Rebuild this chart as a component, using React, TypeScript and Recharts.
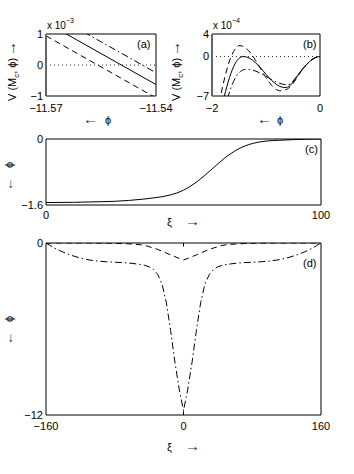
import { LineChart, Line, XAxis, YAxis, ReferenceLine, ReferenceArea } from 'recharts';

// panel (a): three parallel straight lines
const aPhi = [-11.57, -11.54];
const aSolid = [1.37, -0.63];
const aDashed = [0.94, -1.06];
const aDashDot = [1.75, -0.25];
const aXTicks = [-11.57, -11.54];
const aYTicks = [-1, 0, 1];

// panel (b): potential near the maximum
const bPhi = [-2.0, -1.95, -1.9, -1.85, -1.8, -1.75, -1.7, -1.65, -1.6, -1.55, -1.5, -1.45, -1.4, -1.35, -1.3, -1.25, -1.2, -1.15, -1.1, -1.05, -1.0, -0.95, -0.9, -0.85, -0.8, -0.75, -0.7, -0.65, -0.6, -0.55, -0.5, -0.45, -0.4, -0.35, -0.3, -0.25, -0.2, -0.15, -0.1, -0.05, 0];
const bSolid = [-18, -15, -12.5, -10.2, -8.1, -6.2, -4.5, -3.0, -1.8, -0.9, -0.33, -0.04, -0.01, -0.11, -0.32, -0.64, -1.04, -1.51, -2.03, -2.58, -3.14, -3.69, -4.19, -4.63, -5.0, -5.27, -5.44, -5.5, -5.42, -5.1, -4.55, -3.9, -3.2, -2.55, -1.95, -1.42, -0.95, -0.55, -0.25, -0.06, 0];
const bDashed = [-17, -14, -11, -7.6, -5.2, -3.2, -1.5, -0.1, 0.9, 1.55, 1.94, 1.9, 1.68, 1.31, 0.8, 0.17, -0.55, -1.34, -2.16, -2.97, -3.74, -4.45, -5.06, -5.54, -5.89, -6.07, -6.08, -5.95, -5.72, -5.35, -4.8, -4.1, -3.35, -2.62, -1.98, -1.42, -0.95, -0.55, -0.25, -0.06, 0];
const bDashDot = [-20, -17, -14.5, -12, -10, -8.4, -7.0, -5.6, -4.4, -3.5, -2.9, -2.5, -2.3, -2.27, -2.31, -2.41, -2.56, -2.75, -2.99, -3.24, -3.52, -3.8, -4.08, -4.33, -4.56, -4.75, -4.88, -4.97, -5.0, -4.85, -4.35, -3.75, -3.15, -2.52, -1.95, -1.42, -0.95, -0.55, -0.25, -0.06, 0];
const bXTicks = [-2, 0];
const bYTicks = [-7, 0, 4];

// panel (c): kink profile
const cXi = [0, 10, 20, 25, 30, 35, 40, 45, 50, 55, 60, 65, 70, 75, 80, 85, 90, 95, 100];
const cPhi = [-1.54, -1.535, -1.52, -1.51, -1.49, -1.46, -1.42, -1.36, -1.24, -1.03, -0.75, -0.46, -0.24, -0.11, -0.05, -0.03, -0.015, -0.005, 0];
const cXTicks = [0, 100];
const cYTicks = [-1.6, 0];

// panel (d): bubble profiles
const dXi = [-160, -155, -150, -140, -130, -120, -110, -100, -90, -80, -70, -60, -50, -45, -40, -35, -30, -25, -20, -15, -10, -5, 0, 5, 10, 15, 20, 25, 30, 35, 40, 45, 50, 60, 70, 80, 90, 100, 110, 120, 130, 140, 150, 155, 160];
const dDashed = [0, 0, 0, 0, 0, 0, 0, -0.01, -0.01, -0.02, -0.04, -0.07, -0.12, -0.17, -0.26, -0.35, -0.45, -0.57, -0.7, -0.83, -0.95, -1.08, -1.18, -1.08, -0.95, -0.83, -0.7, -0.57, -0.45, -0.35, -0.26, -0.17, -0.12, -0.07, -0.04, -0.02, -0.01, -0.01, 0, 0, 0, 0, 0, 0, 0];
const dDashDot = [0, -0.18, -0.36, -0.64, -0.87, -1.05, -1.18, -1.26, -1.31, -1.34, -1.37, -1.42, -1.5, -1.56, -1.66, -1.84, -2.2, -2.85, -4.15, -6.1, -8.3, -10.2, -11.7, -10.2, -8.3, -6.1, -4.15, -2.85, -2.2, -1.84, -1.66, -1.56, -1.5, -1.42, -1.37, -1.34, -1.31, -1.26, -1.18, -1.05, -0.87, -0.64, -0.36, -0.18, 0];
const dXTicks = [-160, 0, 160];
const dYTicks = [-12, 0];

const aData = aPhi.map((x, i) => ({ x, s: aSolid[i], d: aDashed[i], dd: aDashDot[i] }));
const bData = bPhi.map((x, i) => ({ x, s: bSolid[i], d: bDashed[i], dd: bDashDot[i] }));
const cData = cXi.map((x, i) => ({ x, s: cPhi[i] }));
const dData = dXi.map((x, i) => ({ x, d: dDashed[i], dd: dDashDot[i] }));

const FONT = '"Liberation Sans", Arial, sans-serif';
const DASH = '6 4';
const DASHDOT = '7 3 1.5 3';
const fmt = (v: number) => String(v).replace('-', '\u2212');
const tickStyle = { fontSize: 11, fill: '#000', fontFamily: FONT };

function Axes({ xd, yd, xt, yt, xm, thickLeft }: any) {
  return [
    <XAxis key="x" dataKey="x" type="number" domain={xd} ticks={xt} allowDataOverflow
      tickFormatter={fmt} tick={tickStyle} tickSize={0} tickMargin={xm} axisLine={false} interval={0} />,
    <YAxis key="y" type="number" domain={yd} ticks={yt} allowDataOverflow width={46}
      tickFormatter={fmt} tick={tickStyle} tickSize={0} tickMargin={3} interval={0}
      axisLine={thickLeft ? { stroke: '#666', strokeWidth: 2 } : false} />,
  ];
}

// thin, wide arrow glyph like the original's
const Arrow = ({ ch, x, size = 15 }: { ch: string; x?: number; size?: number }) => (
  <tspan x={x} fontFamily={FONT} fontSize={size} fill="#333">{ch}</tspan>
);

export default function App() {
  const frame = (xd: number[], yd: number[]) => (
    <ReferenceArea x1={xd[0]} x2={xd[1]} y1={yd[0]} y2={yd[1]} fill="none" stroke="#000"
      strokeWidth={1} ifOverflow="visible" />
  );
  const lbl = { fontFamily: FONT, fontSize: 11, fill: '#000' };

  return (
    <div style={{ position: 'absolute', left: 0, top: 0, width: 354, height: 474, background: '#fff' }}>
      <div style={{ position: 'absolute', left: 0, top: 0 }}>
        <LineChart width={186} height={126} data={aData} margin={{ top: 34, right: 30, bottom: 0, left: 0 }}>
          {Axes({ xd: [-11.57, -11.54], yd: [-1, 1], xt: aXTicks, yt: aYTicks, xm: 8, thickLeft: true })}
          <ReferenceLine y={0} stroke="#333" strokeDasharray="1 3" />
          <Line dataKey="s" type="linear" stroke="#000" strokeWidth={1} dot={false} isAnimationActive={false} />
          <Line dataKey="d" type="linear" stroke="#000" strokeWidth={1} strokeDasharray={DASH} dot={false} isAnimationActive={false} />
          <Line dataKey="dd" type="linear" stroke="#000" strokeWidth={1} strokeDasharray={DASHDOT} dot={false} isAnimationActive={false} />
          {frame([-11.57, -11.54], [-1, 1])}
        </LineChart>
      </div>
      <div style={{ position: 'absolute', left: 166, top: 0 }}>
        <LineChart width={168} height={126} data={bData} margin={{ top: 34, right: 14, bottom: 0, left: 0 }}>
          {Axes({ xd: [-2, 0], yd: [-7, 4], xt: bXTicks, yt: bYTicks, xm: 8, thickLeft: true })}
          <ReferenceLine y={0} stroke="#333" strokeDasharray="1 3" />
          <Line dataKey="s" type="monotone" stroke="#000" strokeWidth={1} dot={false} isAnimationActive={false} />
          <Line dataKey="d" type="monotone" stroke="#000" strokeWidth={1} strokeDasharray={DASH} dot={false} isAnimationActive={false} />
          <Line dataKey="dd" type="monotone" stroke="#000" strokeWidth={1} strokeDasharray={DASHDOT} dot={false} isAnimationActive={false} />
          {frame([-2, 0], [-7, 4])}
        </LineChart>
      </div>
      <div style={{ position: 'absolute', left: 0, top: 125 }}>
        <LineChart width={335} height={110} data={cData} margin={{ top: 14, right: 14, bottom: 0, left: 0 }}>
          {Axes({ xd: [0, 100], yd: [-1.6, 0], xt: cXTicks, yt: cYTicks, xm: 6 })}
          <Line dataKey="s" type="monotone" stroke="#000" strokeWidth={1} dot={false} isAnimationActive={false} />
          {frame([0, 100], [-1.6, 0])}
        </LineChart>
      </div>
      <div style={{ position: 'absolute', left: 0, top: 230 }}>
        <LineChart width={335} height={215} data={dData} margin={{ top: 13, right: 14, bottom: 0, left: 0 }}>
          {Axes({ xd: [-160, 160], yd: [-12, 0], xt: dXTicks, yt: dYTicks, xm: 7 })}
          <ReferenceLine segment={[{ x: 0, y: 0 }, { x: 0, y: -0.25 }]} stroke="#000" />
          <ReferenceLine segment={[{ x: 0, y: -12 }, { x: 0, y: -11.75 }]} stroke="#000" />
          <Line dataKey="d" type="linear" stroke="#000" strokeWidth={1} strokeDasharray={DASH} dot={false} isAnimationActive={false} />
          <Line dataKey="dd" type="linear" stroke="#000" strokeWidth={1} strokeDasharray={DASHDOT} dot={false} isAnimationActive={false} />
          {frame([-160, 160], [-12, 0])}
        </LineChart>
      </div>
      <svg width={354} height={474} style={{ position: 'absolute', left: 0, top: 0, pointerEvents: 'none' }}>
        <text {...lbl} transform="translate(16,72) rotate(-90)">
          <tspan x={-29}>V (M</tspan><tspan fontSize={8} dy={3}>c</tspan><tspan dy={-3}>, ϕ)</tspan>
          <Arrow ch="→" x={16} />
        </text>
        <text {...lbl} transform="translate(180,72) rotate(-90)">
          <tspan x={-29}>V (M</tspan><tspan fontSize={8} dy={3}>c</tspan><tspan dy={-3}>, ϕ)</tspan>
          <Arrow ch="→" x={16} />
        </text>
        <text {...lbl} fontSize={10} x={47} y={29}>x 10<tspan fontSize={7} dy={-6}>−3</tspan></text>
        <text {...lbl} fontSize={10} x={213} y={29}>x 10<tspan fontSize={7} dy={-6}>−4</tspan></text>
        <text {...lbl} x={137} y={48}>(a)</text>
        <text {...lbl} x={303} y={48}>(b)</text>
        <text {...lbl} x={305} y={153}>(c)</text>
        <text {...lbl} x={303} y={267}>(d)</text>
        <text {...lbl} y={124}><Arrow ch="←" x={83} /><tspan x={105}>ϕ</tspan></text>
        <text {...lbl} y={124}><Arrow ch="←" x={257} /><tspan x={277}>ϕ</tspan></text>
        <text {...lbl} y={226}><tspan x={167}>ξ</tspan><Arrow ch="→" x={185} /></text>
        <text {...lbl} y={451}><tspan x={167}>ξ</tspan><Arrow ch="→" x={185} /></text>
        <text {...lbl} transform="translate(13,176) rotate(-90)"><Arrow ch="←" x={-15} size={13} /><tspan x={8}>ϕ</tspan></text>
        <text {...lbl} transform="translate(13,330) rotate(-90)"><Arrow ch="←" x={-15} size={13} /><tspan x={8}>ϕ</tspan></text>
      </svg>
    </div>
  );
}
